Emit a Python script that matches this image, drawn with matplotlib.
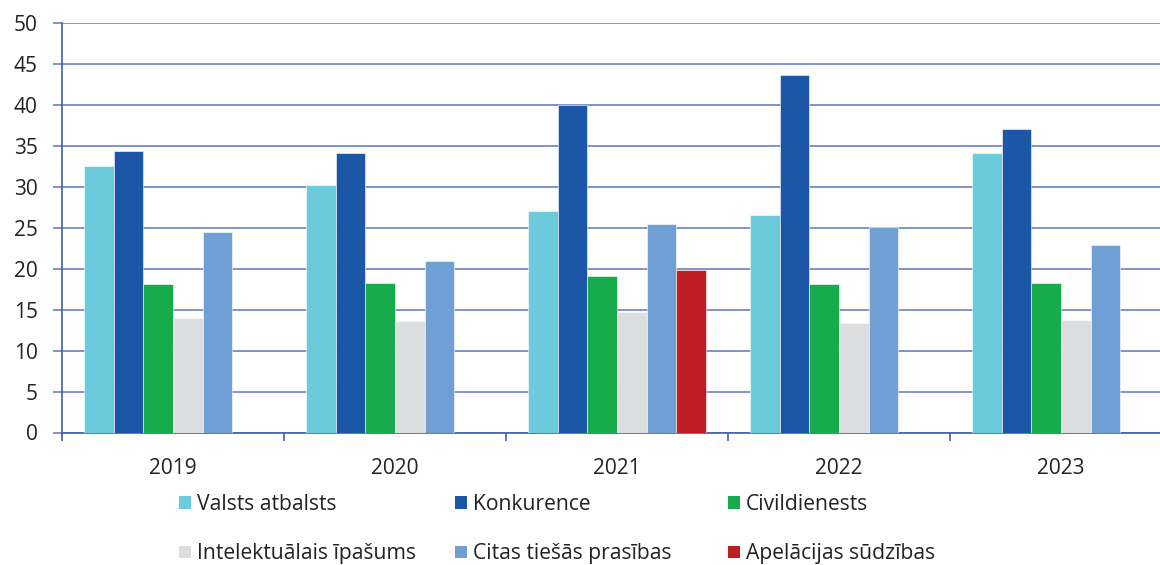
import numpy as np
import matplotlib
matplotlib.use("Agg")
import matplotlib.pyplot as plt
from matplotlib.patches import Patch

plt.rcParams['font.family'] = ['Open Sans', 'DejaVu Sans']

years = ["2019", "2020", "2021", "2022", "2023"]
series_names = ["Valsts atbalsts", "Konkurence", "Civildienests",
                "Intelektuālais īpašums", "Citas tiešās prasības", "Apelācijas sūdzības"]
valsts = [32.5, 30.2, 27.1, 26.6, 34.1]
konkurence = [34.4, 34.1, 40.0, 43.7, 37.1]
civildienests = [18.1, 18.2, 19.1, 18.1, 18.2]
intelektualais = [14.0, 13.6, 14.7, 13.4, 13.7]
citas = [24.5, 20.9, 25.4, 25.1, 22.9]
apelacijas = [np.nan, np.nan, 19.9, np.nan, np.nan]

colors = ["#6bcadb", "#1b57a6", "#16ac4c", "#dcdddf", "#6f9fd4", "#bc1e23"]
GRID = "#6a82c2"
SPINE = "#3f5fb0"
TEXT = "#222222"

W, H = 1160, 565
fig = plt.figure(figsize=(W / 100, H / 100), dpi=100)
ax = fig.add_axes([62 / W, 132.5 / H, 1110 / W, 409.5 / H])

data = [valsts, konkurence, civildienests, intelektualais, citas, apelacijas]
x = np.arange(len(years))
n = len(data)
w = 0.8 / n
for j, vals in enumerate(data):
    ax.bar(x + (j - (n - 1) / 2) * w, vals, width=w, color=colors[j],
           edgecolor="white", linewidth=0.4, zorder=3)

ax.set_ylim(0, 50)
ax.set_xlim(-0.5, 4.5)
ax.set_yticks(np.arange(0, 51, 5))
ax.yaxis.grid(True, color=GRID, linewidth=1.2, zorder=0)
ax.set_axisbelow(True)

ax.set_xticks(np.arange(-0.5, 5, 1))
ax.set_xticklabels([])
ax.set_xticks(x, minor=True)
ax.set_xticklabels(years, minor=True)
ax.tick_params(axis="x", which="major", direction="out", length=6, width=1.2,
               color=SPINE)
ax.tick_params(axis="x", which="minor", length=0, pad=18, labelsize=15,
               labelcolor=TEXT)
ax.tick_params(axis="y", direction="out", length=6.5, width=1.2, color=GRID,
               pad=11, labelsize=15, labelcolor=TEXT)

for s in ["top", "right"]:
    ax.spines[s].set_visible(False)
for s in ["left", "bottom"]:
    ax.spines[s].set_color(SPINE)
    ax.spines[s].set_linewidth(1.2)

# legend: two rows, three columns, each column its own legend
handles = [Patch(facecolor=c, edgecolor="none") for c in colors]
col_x = [179, 455, 728]
for k in range(3):
    idx = [k, k + 3]
    leg = fig.legend([handles[i] for i in idx], [series_names[i] for i in idx],
                     loc="upper left", bbox_to_anchor=(col_x[k] / W, (H - 494) / H),
                     frameon=False, fontsize=15.2, handlelength=0.55, handleheight=0.55,
                     handletextpad=0.3, labelspacing=1.35,
                     borderpad=0, borderaxespad=0, labelcolor=TEXT)

fig.savefig("out.png", dpi=100)
